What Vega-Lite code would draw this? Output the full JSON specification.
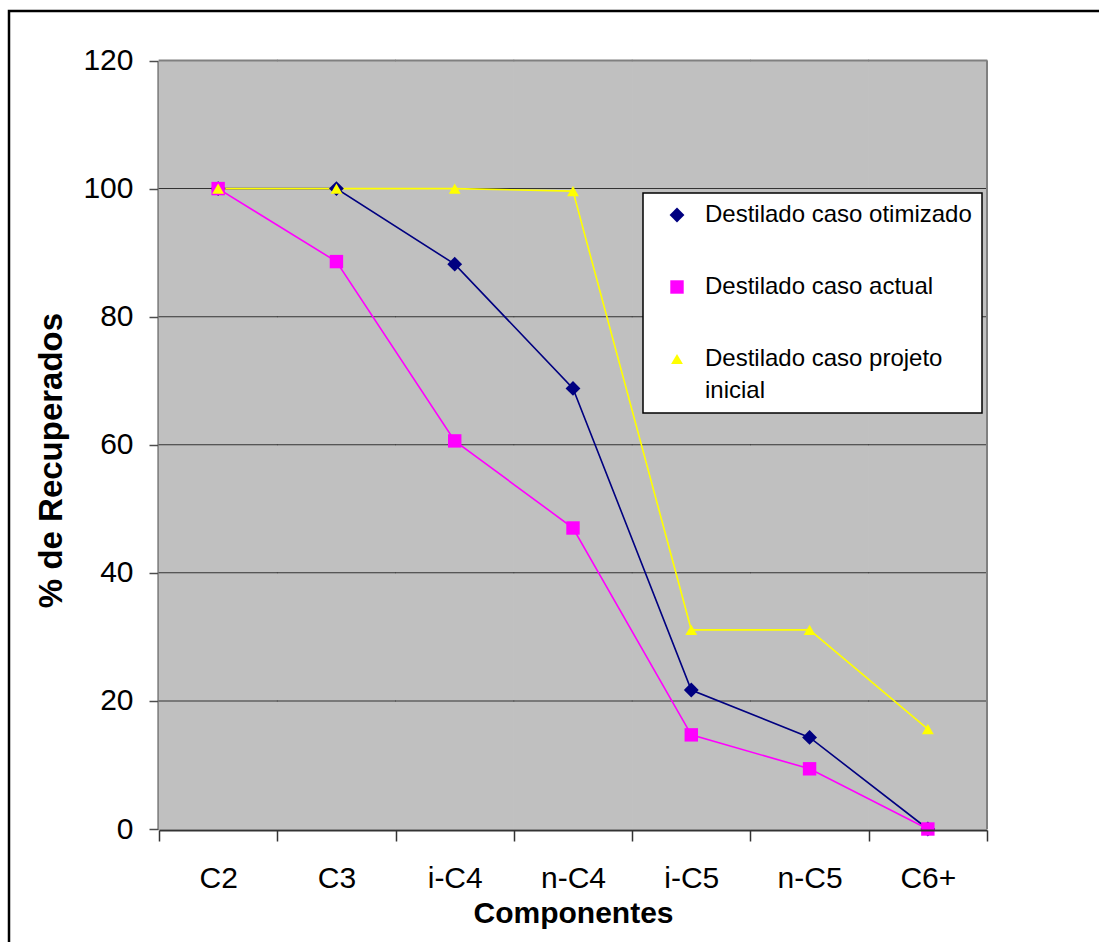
{
  "$schema": "https://vega.github.io/schema/vega-lite/v6.json",
  "width": 1102,
  "height": 943,
  "autosize": {"type": "none"},
  "padding": {"left": 9, "top": 11, "right": -12, "bottom": -12},
  "background": "white",
  "config": {
    "view": {"stroke": "black", "strokeWidth": 2.5, "fill": "white"},
    "font": "Liberation Sans",
    "axis": {"labelColor": "black", "titleColor": "black", "grid": false},
    "legend": {
      "orient": "none",
      "legendX": 634,
      "legendY": 182,
      "fillColor": "white",
      "strokeColor": "black",
      "padding": 10,
      "rowPadding": 48,
      "symbolSize": 400,
      "symbolOffset": 12,
      "labelOffset": 16,
      "labelFont": "Liberation Sans",
      "labelFontSize": 24,
      "labelColor": "black",
      "labelLimit": 400
    }
  },
  "datasets": {
    "recuperados": [
      {"componente": "C2", "serie": "Destilado caso otimizado", "valor": 100},
      {"componente": "C3", "serie": "Destilado caso otimizado", "valor": 100},
      {"componente": "i-C4", "serie": "Destilado caso otimizado", "valor": 88.2},
      {"componente": "n-C4", "serie": "Destilado caso otimizado", "valor": 68.8},
      {"componente": "i-C5", "serie": "Destilado caso otimizado", "valor": 21.7},
      {"componente": "n-C5", "serie": "Destilado caso otimizado", "valor": 14.3},
      {"componente": "C6+", "serie": "Destilado caso otimizado", "valor": 0},
      {"componente": "C2", "serie": "Destilado caso actual", "valor": 100},
      {"componente": "C3", "serie": "Destilado caso actual", "valor": 88.6},
      {"componente": "i-C4", "serie": "Destilado caso actual", "valor": 60.6},
      {"componente": "n-C4", "serie": "Destilado caso actual", "valor": 47.0},
      {"componente": "i-C5", "serie": "Destilado caso actual", "valor": 14.7},
      {"componente": "n-C5", "serie": "Destilado caso actual", "valor": 9.4},
      {"componente": "C6+", "serie": "Destilado caso actual", "valor": 0},
      {"componente": "C2", "serie": "Destilado caso projeto inicial", "valor": 100},
      {"componente": "C3", "serie": "Destilado caso projeto inicial", "valor": 100},
      {"componente": "i-C4", "serie": "Destilado caso projeto inicial", "valor": 100},
      {"componente": "n-C4", "serie": "Destilado caso projeto inicial", "valor": 99.6},
      {"componente": "i-C5", "serie": "Destilado caso projeto inicial", "valor": 31.1},
      {"componente": "n-C5", "serie": "Destilado caso projeto inicial", "valor": 31.1},
      {"componente": "C6+", "serie": "Destilado caso projeto inicial", "valor": 15.6}
    ]
  },
  "data": {"name": "recuperados"},
  "layer": [
    {
      "transform": [{"filter": "datum.serie === 'Destilado caso otimizado'"}],
      "mark": {"type": "rect", "fill": "#C0C0C0", "stroke": "#C0C0C0", "strokeWidth": 1},
      "encoding": {
        "x": {
          "field": "componente",
          "type": "nominal",
          "scale": {
            "type": "band",
            "domain": ["C2", "C3", "i-C4", "n-C4", "i-C5", "n-C5", "C6+"],
            "range": [150, 978],
            "paddingInner": 0,
            "paddingOuter": 0
          },
          "axis": {
            "title": "Componentes",
            "orient": "bottom",
            "offset": -124,
            "tickBand": "extent",
            "grid": false,
            "domainColor": "#333333",
            "domainWidth": 2,
            "tickColor": "#333333",
            "tickWidth": 1.5,
            "tickSize": 11,
            "labelAngle": 0,
            "labelFont": "Liberation Sans",
            "labelFontSize": 30,
            "labelPadding": 22,
            "titleFont": "Liberation Sans",
            "titleFontWeight": "bold",
            "titleFontSize": 30,
            "titlePadding": 5
          }
        },
        "y": {"datum": 0, "type": "quantitative"},
        "y2": {"datum": 120}
      }
    },
    {
      "transform": [{"filter": "datum.serie === 'Destilado caso otimizado'"}],
      "mark": {"type": "tick", "color": "#333333", "thickness": 1, "size": 119, "opacity": 1},
      "encoding": {
        "x": {"field": "componente", "type": "nominal"},
        "y": {"datum": 20, "type": "quantitative"}
      }
    },
    {
      "transform": [{"filter": "datum.serie === 'Destilado caso otimizado'"}],
      "mark": {"type": "tick", "color": "#333333", "thickness": 1, "size": 119, "opacity": 1},
      "encoding": {
        "x": {"field": "componente", "type": "nominal"},
        "y": {"datum": 40, "type": "quantitative"}
      }
    },
    {
      "transform": [{"filter": "datum.serie === 'Destilado caso otimizado'"}],
      "mark": {"type": "tick", "color": "#333333", "thickness": 1, "size": 119, "opacity": 1},
      "encoding": {
        "x": {"field": "componente", "type": "nominal"},
        "y": {"datum": 60, "type": "quantitative"}
      }
    },
    {
      "transform": [{"filter": "datum.serie === 'Destilado caso otimizado'"}],
      "mark": {"type": "tick", "color": "#333333", "thickness": 1, "size": 119, "opacity": 1},
      "encoding": {
        "x": {"field": "componente", "type": "nominal"},
        "y": {"datum": 80, "type": "quantitative"}
      }
    },
    {
      "transform": [{"filter": "datum.serie === 'Destilado caso otimizado'"}],
      "mark": {"type": "tick", "color": "#333333", "thickness": 1, "size": 119, "opacity": 1},
      "encoding": {
        "x": {"field": "componente", "type": "nominal"},
        "y": {"datum": 100, "type": "quantitative"}
      }
    },
    {
      "transform": [{"filter": "datum.serie === 'Destilado caso otimizado'"}],
      "mark": {"type": "tick", "color": "#808080", "thickness": 2, "size": 119, "opacity": 1},
      "encoding": {
        "x": {"field": "componente", "type": "nominal"},
        "y": {"datum": 120, "type": "quantitative"}
      }
    },
    {
      "transform": [{"filter": "datum.serie === 'Destilado caso otimizado' && datum.componente === 'C6+'"}],
      "mark": {"type": "rule", "color": "#808080", "strokeWidth": 2},
      "encoding": {
        "x": {"field": "componente", "type": "nominal", "bandPosition": 1},
        "y": {"datum": 0, "type": "quantitative"},
        "y2": {"datum": 120}
      }
    },
    {
      "mark": {"type": "line", "strokeWidth": 1.6},
      "encoding": {
        "x": {"field": "componente", "type": "nominal"},
        "y": {
          "field": "valor",
          "type": "quantitative",
          "scale": {"domain": [0, 120], "range": [818, 49.5], "nice": false, "zero": false},
          "axis": {
            "title": "% de Recuperados",
            "orient": "left",
            "offset": -149,
            "values": [0, 20, 40, 60, 80, 100, 120],
            "grid": false,
            "domainColor": "#4d4d4d",
            "domainWidth": 2,
            "tickColor": "#4d4d4d",
            "tickWidth": 1.5,
            "tickSize": 9,
            "labelFont": "Liberation Sans",
            "labelFontSize": 30,
            "labelPadding": 16,
            "titleFont": "Liberation Sans",
            "titleFontWeight": "bold",
            "titleFontSize": 33,
            "titlePadding": 14,
            "titleY": 449
          }
        },
        "color": {
          "field": "serie",
          "type": "nominal",
          "scale": {
            "domain": ["Destilado caso otimizado", "Destilado caso actual", "Destilado caso projeto inicial"],
            "range": ["#000080", "#FF00FF", "#FFFF00"]
          },
          "legend": {
            "title": null,
            "labelExpr": "datum.label === 'Destilado caso projeto inicial' ? ['Destilado caso projeto', 'inicial'] : datum.label",
            "encode": {
              "legend": {"update": {"strokeWidth": {"value": 1.5}}},
              "labels": {"update": {"lineHeight": {"value": 32}}},
              "symbols": {
                "update": {
                  "shape": {"signal": "datum.value === 'Destilado caso otimizado' ? 'M-2.6,-0.08L2.6,-0.08L2.6,0.08L-2.6,0.08ZM0,-0.65L0.65,0L0,0.65L-0.65,0Z' : datum.value === 'Destilado caso actual' ? 'M-2.6,-0.08L2.6,-0.08L2.6,0.08L-2.6,0.08ZM-0.55,-0.55L0.55,-0.55L0.55,0.55L-0.55,0.55Z' : 'M-2.6,-0.08L2.6,-0.08L2.6,0.08L-2.6,0.08ZM0,-0.65L0.7,0.6L-0.7,0.6Z'"},
                  "size": {"value": 400},
                  "fill": {"scale": "color", "field": "value"},
                  "strokeWidth": {"value": 0},
                  "opacity": {"value": 1},
                  "fillOpacity": {"value": 1}
                }
              }
            }
          }
        }
      }
    },
    {
      "mark": {"type": "point", "filled": true, "opacity": 1},
      "encoding": {
        "x": {"field": "componente", "type": "nominal"},
        "y": {"field": "valor", "type": "quantitative"},
        "color": {
          "field": "serie",
          "type": "nominal",
          "legend": {
            "title": null,
            "labelExpr": "datum.label === 'Destilado caso projeto inicial' ? ['Destilado caso projeto', 'inicial'] : datum.label",
            "encode": {
              "legend": {"update": {"strokeWidth": {"value": 1.5}}},
              "labels": {"update": {"lineHeight": {"value": 32}}},
              "symbols": {
                "update": {
                  "shape": {"signal": "datum.value === 'Destilado caso otimizado' ? 'M-2.6,-0.08L2.6,-0.08L2.6,0.08L-2.6,0.08ZM0,-0.65L0.65,0L0,0.65L-0.65,0Z' : datum.value === 'Destilado caso actual' ? 'M-2.6,-0.08L2.6,-0.08L2.6,0.08L-2.6,0.08ZM-0.55,-0.55L0.55,-0.55L0.55,0.55L-0.55,0.55Z' : 'M-2.6,-0.08L2.6,-0.08L2.6,0.08L-2.6,0.08ZM0,-0.65L0.7,0.6L-0.7,0.6Z'"},
                  "size": {"value": 400},
                  "fill": {"scale": "color", "field": "value"},
                  "strokeWidth": {"value": 0},
                  "opacity": {"value": 1},
                  "fillOpacity": {"value": 1}
                }
              }
            }
          }
        },
        "shape": {
          "field": "serie",
          "type": "nominal",
          "scale": {
            "domain": ["Destilado caso otimizado", "Destilado caso actual", "Destilado caso projeto inicial"],
            "range": ["diamond", "square", "triangle-up"]
          },
          "legend": null
        },
        "size": {
          "field": "serie",
          "type": "nominal",
          "scale": {
            "domain": ["Destilado caso otimizado", "Destilado caso actual", "Destilado caso projeto inicial"],
            "range": [220, 140, 230]
          },
          "legend": null
        }
      }
    }
  ]
}
